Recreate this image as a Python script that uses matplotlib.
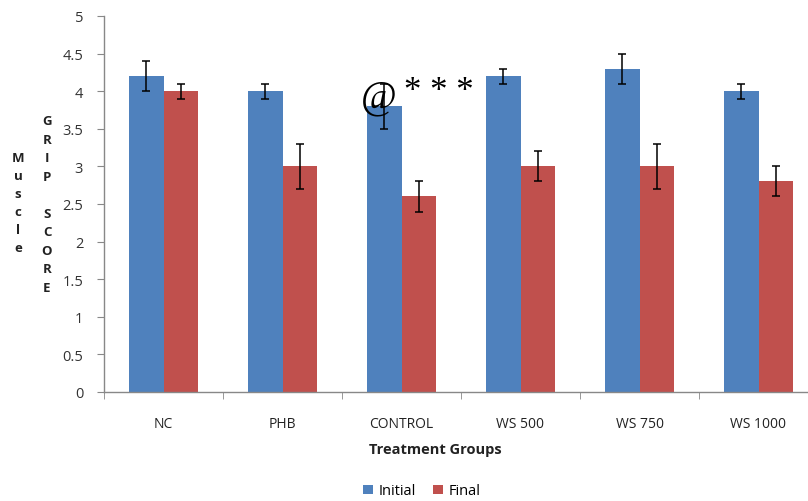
import matplotlib

matplotlib.use("Agg")
import matplotlib.pyplot as plt
import numpy as np
from matplotlib.patches import Patch

groups = ["NC", "PHB", "CONTROL", "WS 500", "WS 750", "WS 1000"]
initial = [4.2, 4.0, 3.8, 4.2, 4.3, 4.0]
initial_err = [0.2, 0.1, 0.3, 0.1, 0.2, 0.1]
final = [4.0, 3.0, 2.6, 3.0, 3.0, 2.8]
final_err = [0.1, 0.3, 0.2, 0.2, 0.3, 0.2]
y_ticks = [0, 0.5, 1, 1.5, 2, 2.5, 3, 3.5, 4, 4.5, 5]

BLUE = "#4F81BD"
RED = "#C0504D"
GRAY = "#888888"
W, H = 808, 502

plt.rcParams["font.family"] = ["Open Sans", "DejaVu Sans"]

fig = plt.figure(figsize=(W / 100, H / 100), dpi=100)
# plot area runs a little past the right edge of the canvas
ax = fig.add_axes([104 / W, (H - 393) / H, 714 / W, 376 / H])

x = np.arange(len(groups))
bw = 0.286
ekw = dict(ecolor="black", elinewidth=1.1, capsize=2.6, capthick=1.1)
ax.bar(x - bw / 2, initial, bw, yerr=initial_err, color=BLUE, error_kw=ekw, zorder=2)
ax.bar(x + bw / 2, final, bw, yerr=final_err, color=RED, error_kw=ekw, zorder=2)

ax.set_xlim(-0.5, len(groups) - 0.5)
ax.set_ylim(0, 5)
ax.set_yticks(y_ticks)
ax.set_yticklabels([f"{t:g}" for t in y_ticks], fontsize=10.5, color="#333333")
ax.set_xticks(x)
ax.set_xticklabels(groups, fontsize=10, color="#222222")
ax.set_xticks(np.arange(len(groups) + 1) - 0.5, minor=True)
ax.tick_params(axis="x", which="major", length=0, pad=17)
ax.tick_params(axis="x", which="minor", length=5, color=GRAY, direction="out")
ax.tick_params(axis="y", length=5, color=GRAY, direction="out", pad=10)

for side in ("top", "right"):
    ax.spines[side].set_visible(False)
for side in ("left", "bottom"):
    ax.spines[side].set_color(GRAY)
    ax.spines[side].set_linewidth(1.0)

# significance mark over the CONTROL group
ax.text(1.66, 3.93, "@", fontsize=28, family="Liberation Serif", va="center", ha="left")
ax.text(2.02, 4.0, "* * *", fontsize=25, family="Liberation Serif", va="center", ha="left")

# stacked-letter y-axis titles
fig.text(18 / W, 1 - 204 / H, "\n".join("Muscle"), fontsize=9.5, fontweight="bold",
         ha="center", va="center", linespacing=1.5, color="#222222")
fig.text(47 / W, 1 - 205 / H, "\n".join("GRIP SCORE"), fontsize=9.5, fontweight="bold",
         ha="center", va="center", linespacing=1.55, color="#222222")

fig.text(435 / W, 1 - 450 / H, "Treatment Groups", fontsize=10.5, fontweight="bold",
         ha="center", va="center", color="#222222")

handles = [Patch(facecolor=BLUE, label="Initial"), Patch(facecolor=RED, label="Final")]
fig.legend(handles=handles, loc="center", bbox_to_anchor=(422 / W, 1 - 492 / H), ncol=2,
           frameon=False, fontsize=10.5, handlelength=0.65, handleheight=0.65,
           handletextpad=0.4, columnspacing=1.2)

fig.savefig("out.png", dpi=100)
